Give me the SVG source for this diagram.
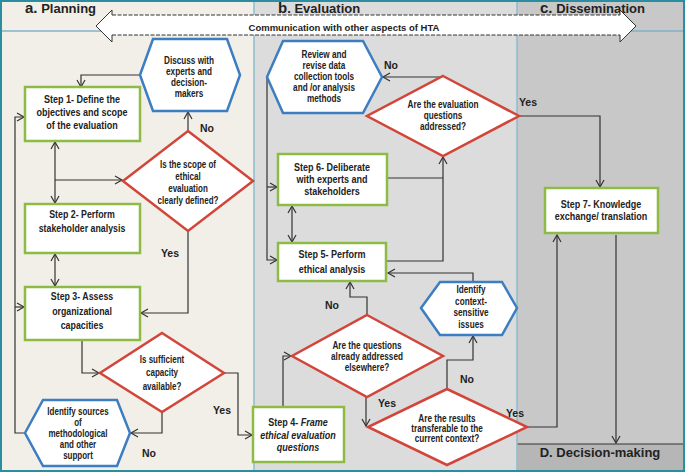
<svg xmlns="http://www.w3.org/2000/svg" width="685" height="472" viewBox="0 0 685 472">
<style>
  text { font-family: "Liberation Sans", Arial, sans-serif; font-weight: bold; fill: #222; }
  .t { font-size: 10.5px; text-anchor: middle; }
  .ts { font-size: 10px; text-anchor: middle; }
  .lbl { font-size: 10.5px; text-anchor: middle; }
  .hd { font-size: 13px; }
  .box { fill: #ffffff; stroke: #8dbb45; stroke-width: 2.5; }
  .hex { fill: #ffffff; stroke: #3d7dc2; stroke-width: 2.5; }
  .dia { fill: #ffffff; stroke: #d2453a; stroke-width: 2.5; }
  .c { fill: none; stroke: #333; stroke-width: 1.2; }
</style>
<defs>
  <marker id="ah" markerWidth="10" markerHeight="10" refX="8" refY="5" orient="auto" markerUnits="userSpaceOnUse">
    <polyline points="1,1 8,5 1,9" fill="none" stroke="#333" stroke-width="1.2"/>
  </marker>
  <marker id="as" markerWidth="10" markerHeight="10" refX="2" refY="5" orient="auto" markerUnits="userSpaceOnUse">
    <polyline points="9,1 2,5 9,9" fill="none" stroke="#333" stroke-width="1.2"/>
  </marker>
</defs>

<!-- backgrounds -->
<rect x="0" y="0" width="254" height="472" fill="#f1efe7"/>
<rect x="254" y="0" width="263" height="472" fill="#dcdcdc"/>
<rect x="517" y="0" width="168" height="472" fill="#c8c8c8"/>
<rect x="517" y="444" width="168" height="28" fill="#b6b6b6"/>
<line x1="517" y1="444" x2="684" y2="444" stroke="#333" stroke-width="1"/>
<line x1="0" y1="31" x2="685" y2="31" stroke="#7fb2c8" stroke-width="1.5"/>
<line x1="254" y1="0" x2="254" y2="472" stroke="#8dbccc" stroke-width="1.5"/>
<line x1="517" y1="0" x2="517" y2="472" stroke="#8dbccc" stroke-width="1.5"/>
<rect x="1" y="1" width="683" height="470" fill="none" stroke="#2a8da0" stroke-width="2"/>

<!-- headers -->
<text class="hd" x="25" y="13"><tspan font-size="15">a.</tspan>  Planning</text>
<text class="hd" x="278" y="13"><tspan font-size="15">b</tspan>. Evaluation</text>
<text class="hd" x="540" y="13"><tspan font-size="15">c.</tspan>  Dissemination</text>
<text class="hd" x="600" y="457" text-anchor="middle">D.  Decision-making</text>

<!-- communication arrow -->
<g id="communication">
  <polygon points="96,26 112,10 112,15 620,15 620,10 636,26 620,42 620,35 112,35 112,42" fill="#ffffff"/>
  <polyline points="112,15 112,10 96,26 112,42 112,35" fill="none" stroke="#333" stroke-width="1"/>
  <polyline points="620,15 620,10 636,26 620,42 620,35" fill="none" stroke="#333" stroke-width="1"/>
  <line x1="112" y1="15" x2="620" y2="15" stroke="#333" stroke-width="1" stroke-dasharray="4 1.5"/>
  <line x1="112" y1="35" x2="620" y2="35" stroke="#333" stroke-width="1" stroke-dasharray="4 1.5"/>
  <text x="344" y="31" font-size="9.5" text-anchor="middle">Communication with other aspects of HTA</text>
</g>

<!-- connectors -->
<g id="connectors">
  <path class="c" d="M188,131 L188,112" marker-end="url(#ah)"/>
  <path class="c" d="M140,75 L81,75 L81,87" marker-end="url(#ah)"/>
  <path class="c" d="M55,142 L55,203" marker-start="url(#as)" marker-end="url(#ah)"/>
  <path class="c" d="M55,180 L122,180" marker-end="url(#ah)"/>
  <path class="c" d="M188,231 L188,313 L141,313" marker-end="url(#ah)"/>
  <path class="c" d="M55,254 L55,286" marker-start="url(#as)" marker-end="url(#ah)"/>
  <path class="c" d="M82,340 L82,373 L99,373" marker-end="url(#ah)"/>
  <path class="c" d="M224,373 L238,373 L238,435 L252,435" marker-end="url(#ah)"/>
  <path class="c" d="M162,412 L162,433 L131,433" marker-end="url(#ah)"/>
  <path class="c" d="M25,433 L15,433 L15,117 L24,117" marker-end="url(#ah)"/>
  <path class="c" d="M15,307 L24,307" marker-end="url(#ah)"/>
  <path class="c" d="M443,77 L383,77" marker-end="url(#ah)"/>
  <path class="c" d="M267,77 L267,260 L277,260" marker-end="url(#ah)"/>
  <path class="c" d="M267,187 L277,187" marker-end="url(#ah)"/>
  <path class="c" d="M292,206 L292,242" marker-start="url(#as)" marker-end="url(#ah)"/>
  <path class="c" d="M387,178 L443,178"/>
  <path class="c" d="M387,261 L443,261 L443,157" marker-end="url(#ah)"/>
  <path class="c" d="M519,116 L600,116 L600,187" marker-end="url(#ah)"/>
  <path class="c" d="M473,282 L473,273 L388,273" marker-end="url(#ah)"/>
  <path class="c" d="M367,315 L367,297 L350,297 L350,282" marker-end="url(#ah)"/>
  <path class="c" d="M283,407 L283,356 L291,356" marker-end="url(#ah)"/>
  <path class="c" d="M366,397 L366,426" marker-end="url(#ah)"/>
  <path class="c" d="M447,389 L447,360 L473,360 L473,336" marker-end="url(#ah)"/>
  <path class="c" d="M527,427 L557,427 L557,235" marker-end="url(#ah)"/>
  <path class="c" d="M616,235 L616,443" marker-end="url(#ah)"/>
  <text class="lbl" x="207" y="132">No</text>
  <text class="lbl" x="170" y="257">Yes</text>
  <text class="lbl" x="222" y="414">Yes</text>
  <text class="lbl" x="149" y="457">No</text>
  <text class="lbl" x="391" y="69">No</text>
  <text class="lbl" x="528" y="106">Yes</text>
  <text class="lbl" x="332" y="309">No</text>
  <text class="lbl" x="387" y="407">Yes</text>
  <text class="lbl" x="467" y="383">No</text>
  <text class="lbl" x="515" y="417">Yes</text>
</g>

<!-- nodes -->
<g id="step1">
  <rect class="box" x="25" y="87" width="115" height="54"/>
  <g transform="translate(82 0) scale(0.86 1)">
    <text class="t" x="0" y="103.5">Step 1- Define the</text>
    <text class="t" x="0" y="116.5">objectives and scope</text>
    <text class="t" x="0" y="129.5">of the evaluation</text>
  </g>
</g>
<g id="discuss">
  <polygon class="hex" points="140,75 153,39 227,39 240,75 227,111 153,111"/>
  <g transform="translate(189 0) scale(0.82 1)">
    <text class="ts" x="0" y="64.5">Discuss with</text>
    <text class="ts" x="0" y="75.5">experts and</text>
    <text class="ts" x="0" y="86.5">decision-</text>
    <text class="ts" x="0" y="97">makers</text>
  </g>
</g>
<g id="scope-q">
  <polygon class="dia" points="188,131 253,181 188,231 123,181"/>
  <g transform="translate(188 0) scale(0.8 1)">
    <text class="ts" x="0" y="168.5">Is the scope of</text>
    <text class="ts" x="0" y="180.5">ethical</text>
    <text class="ts" x="0" y="192.5">evaluation</text>
    <text class="ts" x="0" y="204.5">clearly defined?</text>
  </g>
</g>
<g id="step2">
  <rect class="box" x="25" y="204" width="115" height="49"/>
  <g transform="translate(82 0) scale(0.84 1)">
    <text class="t" x="0" y="218.5">Step 2- Perform</text>
    <text class="t" x="0" y="232.5">stakeholder analysis</text>
  </g>
</g>
<g id="step3">
  <rect class="box" x="25" y="287" width="115" height="53"/>
  <g transform="translate(82 0) scale(0.84 1)">
    <text class="t" x="0" y="300.5">Step 3- Assess</text>
    <text class="t" x="0" y="315.5">organizational</text>
    <text class="t" x="0" y="329.5">capacities</text>
  </g>
</g>
<g id="capacity-q">
  <polygon class="dia" points="162,333 224,373 162,412 100,373"/>
  <g transform="translate(162 0) scale(0.8 1)">
    <text class="ts" x="0" y="363.5">Is sufficient</text>
    <text class="ts" x="0" y="376.5">capacity</text>
    <text class="ts" x="0" y="390.5">available?</text>
  </g>
</g>
<g id="sources">
  <polygon class="hex" points="25,433 43,400 117,400 130,433 117,466 43,466"/>
  <g transform="translate(78 0) scale(0.8 1)">
    <text class="ts" x="0" y="415.5">Identify sources</text>
    <text class="ts" x="0" y="426.5">of</text>
    <text class="ts" x="0" y="437.5">methodological</text>
    <text class="ts" x="0" y="448.5">and other</text>
    <text class="ts" x="0" y="459.5">support</text>
  </g>
</g>
<g id="review">
  <polygon class="hex" points="267,77 283,41 363,41 382,77 363,113 283,113"/>
  <g transform="translate(324 0) scale(0.82 1)">
    <text class="ts" x="0" y="58.5">Review and</text>
    <text class="ts" x="0" y="69.5">revise data</text>
    <text class="ts" x="0" y="80.5">collection tools</text>
    <text class="ts" x="0" y="91.5">and /or analysis</text>
    <text class="ts" x="0" y="102.5">methods</text>
  </g>
</g>
<g id="addressed-q">
  <polygon class="dia" points="443,76 519,116 443,156 367,116"/>
  <g transform="translate(443 0) scale(0.82 1)">
    <text class="ts" x="0" y="108.5">Are the evaluation</text>
    <text class="ts" x="0" y="119.5">questions</text>
    <text class="ts" x="0" y="130.5">addressed?</text>
  </g>
</g>
<g id="step6">
  <rect class="box" x="278" y="154" width="109" height="51"/>
  <g transform="translate(332 0) scale(0.86 1)">
    <text class="t" x="0" y="171.5">Step 6- Deliberate</text>
    <text class="t" x="0" y="183.5">with experts and</text>
    <text class="t" x="0" y="195.5">stakeholders</text>
  </g>
</g>
<g id="step5">
  <rect class="box" x="278" y="243" width="108" height="38"/>
  <g transform="translate(332 0) scale(0.86 1)">
    <text class="t" x="0" y="258.5">Step 5- Perform</text>
    <text class="t" x="0" y="273.5">ethical analysis</text>
  </g>
</g>
<g id="context">
  <polygon class="hex" points="421,308 440,282 502,282 517,308 502,335 440,335"/>
  <g transform="translate(471 0) scale(0.82 1)">
    <text class="ts" x="0" y="293.5">Identify</text>
    <text class="ts" x="0" y="305.5">context-</text>
    <text class="ts" x="0" y="316.5">sensitive</text>
    <text class="ts" x="0" y="328.5">issues</text>
  </g>
</g>
<g id="elsewhere-q">
  <polygon class="dia" points="367,315 443,356 367,397 292,356"/>
  <g transform="translate(367 0) scale(0.82 1)">
    <text class="ts" x="0" y="349.5">Are the questions</text>
    <text class="ts" x="0" y="360.5">already addressed</text>
    <text class="ts" x="0" y="371.5">elsewhere?</text>
  </g>
</g>
<g id="step4">
  <rect class="box" x="253" y="407" width="91" height="55"/>
  <g transform="translate(298 0) scale(0.86 1)">
    <text class="t" x="0" y="426.5">Step 4- <tspan font-style="italic">Frame</tspan></text>
    <text class="t" x="0" y="439.5" font-style="italic">ethical evaluation</text>
    <text class="t" x="0" y="451.5" font-style="italic">questions</text>
  </g>
</g>
<g id="transferable-q">
  <polygon class="dia" points="447,389 527,427 447,465 368,427"/>
  <g transform="translate(447 0) scale(0.82 1)">
    <text class="ts" x="0" y="422.5">Are the results</text>
    <text class="ts" x="0" y="432.5">transferable to the</text>
    <text class="ts" x="0" y="442.5">current context?</text>
  </g>
</g>
<g id="step7">
  <rect class="box" x="545" y="188" width="113" height="45"/>
  <g transform="translate(601 0) scale(0.86 1)">
    <text class="t" x="0" y="208.5">Step 7- Knowledge</text>
    <text class="t" x="0" y="220.5">exchange/ translation</text>
  </g>
</g>
</svg>
